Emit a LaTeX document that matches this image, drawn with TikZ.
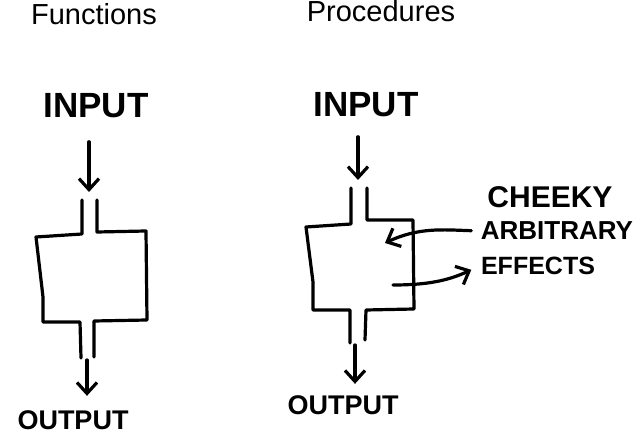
\documentclass[tikz,border=0pt]{standalone}
\usepackage{fontspec}
\setmainfont{Liberation Sans}
\usetikzlibrary{arrows.meta}
\begin{document}
\begin{tikzpicture}[x=1pt, y=-1pt, line width=3.2pt, line cap=round, line join=round,
    hand/.style={inner sep=0pt, font=\bfseries\fontsize{#1}{#1}\selectfont},
    title/.style={inner sep=0pt, anchor=base, font=\fontsize{29}{29}\selectfont},
    arr/.style={-{Straight Barb[length=11pt, width=20pt]}}]
        \useasboundingbox (0,0) rectangle (638,443);

        \node[title] (fun) at (94,25) {Functions};
        \node[title] (proc) at (381,22) {Procedures};

        \node[hand=35] (in1) at (96,106) {INPUT};
        \node[hand=27] (out1) at (73,420) {OUTPUT};
        \node[hand=35] (in2) at (366,105) {INPUT};
        \node[hand=27] (out2) at (343,405) {OUTPUT};
        \node[hand=30] (cheeky) at (550,197) {CHEEKY};
        \node[hand=26] (arb) at (557,231) {ARBITRARY};
        \node[hand=25] (eff) at (538,266) {EFFECTS};

        \coordinate (top1) at (89,192);
        \coordinate (bot1) at (87,360);
        \coordinate (top2) at (358,180);
        \coordinate (bot2) at (355,345);
        \coordinate (eff-in) at (385,243);
        \coordinate (eff-out) at (393,285);

        \draw (82,200) -- (82,234) -- (36,237) -- (43,297) -- (43,322) -- (80,322) -- (81,358);
        \draw (94,357) -- (94,321) -- (147,320) -- (146,231) -- (97,232) -- (97,200);

        \draw (351,188) -- (351,224) -- (306,227) -- (313,282) -- (313,310) -- (350,310) -- (350,343);
        \draw (365,340) -- (366,310) -- (414,309) -- (413,220) -- (367,220) -- (367,188);

        \draw[arr, shorten <=22pt] (in1.south -| top1) -- (top1);
        \draw[arr, shorten >=13pt] (bot1) -- (bot1 |- out1.north);
        \draw[arr, shorten <=18pt] (in2.south -| top2) -- (top2);
        \draw[arr, shorten >=10pt] (bot2) -- (bot2 |- out2.north);

        \draw[arr, shorten <=8pt] (arb.west) to[out=178, in=25] (eff-in);
        \draw[arr, shorten >=9pt] (eff-out) to[out=0, in=205] (eff.west);
      \end{tikzpicture}
\end{document}
